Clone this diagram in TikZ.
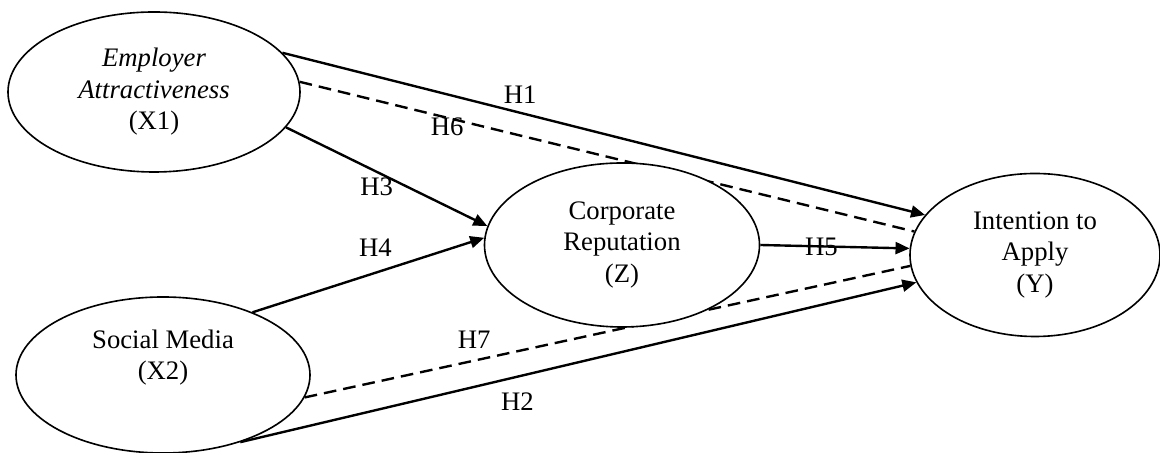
\documentclass[tikz,border=0pt]{standalone}
\usepackage{fontspec}
\setmainfont{Liberation Serif}
\usetikzlibrary{shapes.geometric, arrows.meta, backgrounds}

\begin{document}
\begin{tikzpicture}[
    construct/.style={draw, ellipse, line width=1.15pt, fill=white, align=center, inner sep=0pt, font=\fontsize{19}{22.4}\selectfont},
    hypo/.style={line width=1.7pt, -{Triangle[length=10pt, width=8.5pt]}},
    mediated/.style={line width=1.7pt, dash pattern=on 9pt off 5pt},
    hlabel/.style={font=\fontsize{19}{22.4}\selectfont, inner sep=0pt}
]
    \useasboundingbox (0,0) rectangle (29,11.325);
    % Constructs (latent variables)
    \node[construct, minimum width=7.3cm, minimum height=4cm] (x1) at (3.85,9.025) {\textit{Employer}\\\textit{Attractiveness}\\(X1)};
    \node[construct, minimum width=7.35cm, minimum height=3.9cm] (x2) at (4.075,1.95) {Social Media\\(X2)\\\strut};
    \node[construct, minimum width=6.875cm, minimum height=4.1cm] (z) at (15.55,5.2) {Corporate\\Reputation\\(Z)};
    \node[construct, minimum width=6.25cm, minimum height=4.075cm] (y) at (25.875,4.95) {Intention to\\Apply\\(Y)};
    % Hypothesised paths (behind the ellipses)
    \begin{scope}[on background layer]
        \draw[hypo] (x1.17) -- node[hlabel, pos=.37, yshift=.445cm] (h1) {H1} (y.160);
        \draw[mediated] (x1.4) -- node[hlabel, pos=.24, yshift=-.23cm] (h6) {H6} (y.169);
        \draw[hypo] (x1.345) -- node[hlabel, pos=.45, yshift=-.375cm] (h3) {H3} (z.172);
        \draw[hypo] (x2.35) -- node[hlabel, pos=.53, yshift=.62cm] (h4) {H4} (z.177);
        \draw[hypo] (z.east) -- node[hlabel, pos=.41] (h5) {H5} (y.177);
        \draw[mediated] (x2.351) -- node[hlabel, pos=.28, yshift=.52cm] (h7) {H7} (y.185);
        \draw[hypo] (x2.319) -- node[hlabel, pos=.41, yshift=-.615cm] (h2) {H2} (y.193);
    \end{scope}
\end{tikzpicture}
\end{document}
